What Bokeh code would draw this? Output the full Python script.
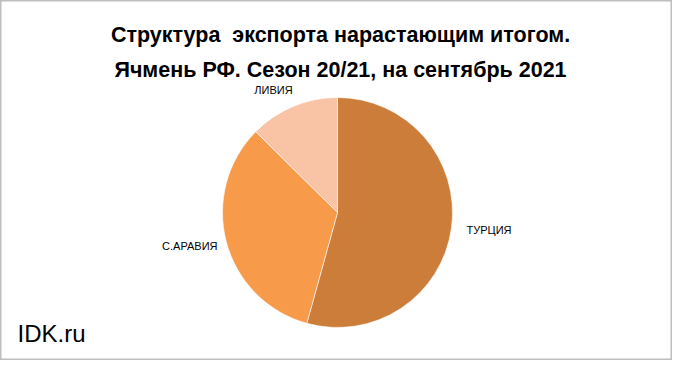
import math
from bokeh.plotting import figure
from bokeh.models import ColumnDataSource, Range1d
from bokeh.core.properties import value
from bokeh.embed import file_html
from bokeh.resources import INLINE

# Data
countries = ["ТУРЦИЯ", "С.АРАВИЯ", "ЛИВИЯ"]
shares = [54.3, 33.1, 12.6]
colors = ["#CD7D3A", "#F79A4A", "#F9C3A6"]
title_lines = ["Структура\u00a0 экспорта нарастающим итогом.",
               "Ячмень РФ. Сезон 20/21, на сентябрь 2021"]
source_label = "IDK.ru"

W, H = 672, 360
p = figure(width=W, height=H, output_backend="svg", toolbar_location=None,
           x_range=Range1d(0, W), y_range=Range1d(0, H), min_border=0)
p.axis.visible = False
p.grid.visible = False
p.outline_line_color = "#BFBFBF"
p.outline_line_width = 2
p.background_fill_color = "white"
p.border_fill_color = "white"

cx, cy, r = 337, H - 212, 115
total = sum(shares)
starts, ends = [], []
acc = 0.0
for s in shares:
    a0 = math.pi / 2 - 2 * math.pi * acc / total
    acc += s
    a1 = math.pi / 2 - 2 * math.pi * acc / total
    starts.append(a0)
    ends.append(a1)

src = ColumnDataSource(dict(start=starts, end=ends, color=colors, name=countries))
p.wedge(x=cx, y=cy, radius=r, start_angle="start", end_angle="end",
        direction="clock", fill_color="color", line_color="white",
        line_width=0.6, source=src)

# Slice labels
lab_pos = [(466, H - 229, "left"), (217, H - 245, "right"), (273, H - 89, "center")]
for (x, y, al), name in zip(lab_pos, countries):
    p.text(x=[x], y=[y], text=[name], text_font=value("Liberation Sans"),
           text_font_size="11px", text_align=al, text_baseline="middle",
           text_color="black")

# Title
p.text(x=[340, 340], y=[H - 34, H - 69], text=title_lines,
       text_font=value("Liberation Sans"), text_font_style="bold",
       text_font_size="21.5px", text_align="center", text_baseline="middle",
       text_color="black")

# Source
p.text(x=[17], y=[H - 333], text=[source_label], text_font=value("Liberation Sans"),
       text_font_size="24px", text_align="left", text_baseline="middle",
       text_color="black")

open("out.html", "w").write(file_html(p, INLINE))
